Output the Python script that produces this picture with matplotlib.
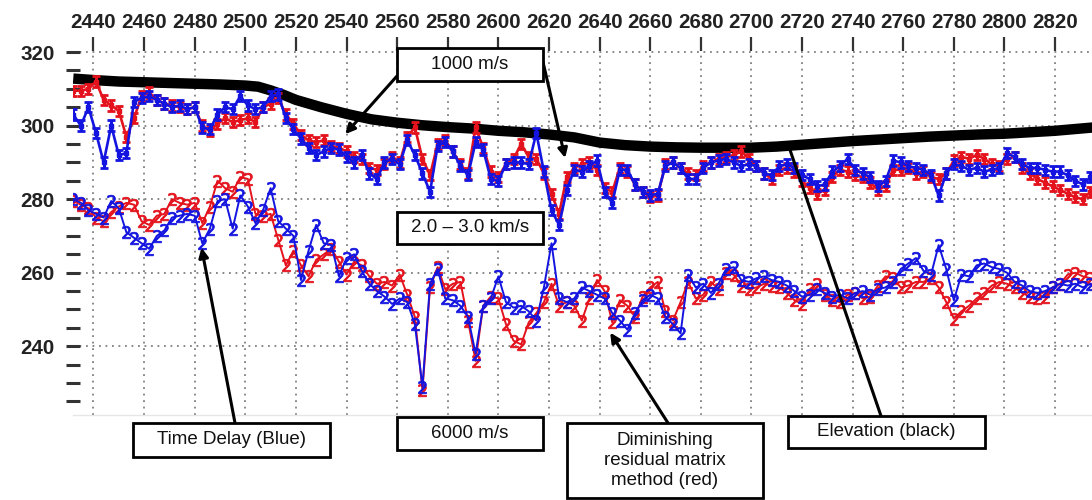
import numpy as np
import matplotlib
matplotlib.use("Agg")
import matplotlib.pyplot as plt
from matplotlib.patches import Rectangle
from matplotlib.ticker import MultipleLocator, FixedLocator

plt.rcParams['font.family'] = ['Liberation Sans', 'DejaVu Sans']

# ---------------- data ----------------
stations = np.arange(2432, 2835, 3)

upper_red = [
    309.5, 309.5, 310, 312, 307, 305.5, 304, 297, 302, 308,
    309, 307, 306, 305.5, 305, 304.5, 305, 300, 298.5, 300.5,
    302, 301, 301.5, 302, 301, 305, 306, 307.5, 303, 300.5,
    297.5, 296, 295.5, 296, 294.5, 294, 293, 291.5, 291, 288.5,
    288, 289.5, 291.5, 290, 297, 299.5, 291, 286.5, 295, 296,
    293, 289.5, 287, 299.5, 294, 287.5, 286, 289.5, 291, 295,
    291.5, 291, 287, 281.5, 276, 286, 288.5, 289.5, 290, 288,
    283, 282, 288.5, 287.5, 284, 282, 280.5, 281, 289.5, 290,
    288.5, 287, 286.5, 289, 290, 291, 291.5, 292, 293, 291,
    289, 287, 285.5, 288, 288.5, 287.5, 285, 283, 281.5, 282.5,
    286, 288, 287.5, 286.5, 286, 284.5, 282.5, 283.5, 288, 288,
    288.5, 287, 287.5, 286, 285.5, 287, 290.5, 291.5, 291, 292,
    291, 289.5, 289, 291, 291.5, 288.5, 287, 285.5, 284.5, 283.5,
    282.5, 281.5, 280.5, 280, 282,
]

upper_blue = [
    303, 300, 305, 298, 290, 300, 292, 292.5, 306.5, 307.5,
    308, 307, 306, 305, 305.5, 304.5, 305, 299.5, 299, 303,
    305, 304.5, 308, 305.5, 304.5, 305, 308, 308.5, 302, 299,
    296.5, 294, 292, 293, 294, 293.5, 291.5, 290, 292, 287,
    285.5, 290, 291, 289.5, 296, 292, 287, 282, 294.5, 295.5,
    293, 289, 286.5, 295.5, 293.5, 285.5, 285, 289.5, 290, 290,
    289.5, 298, 287.5, 277, 273, 282.5, 288, 287.5, 289, 290.5,
    282, 279, 288, 288, 284, 282, 281, 281.5, 289, 290,
    288.5, 285.5, 285.5, 288.5, 290, 290.5, 291, 290, 289, 289.5,
    289, 287, 286.5, 289, 289.5, 288.5, 286.5, 285.5, 283.5, 284,
    287.5, 289, 291, 288, 287, 286, 283.5, 285, 290.5, 290,
    289, 288.5, 288, 286.5, 281, 287, 289.5, 289, 288, 288.5,
    287.5, 288, 288.5, 292.5, 291.5, 289.5, 288.5, 288.5, 288, 287.5,
    287.5, 286.5, 285, 284, 286,
]

lower_red = [
    279.5, 278.5, 277.5, 275, 274, 276.5, 278, 279, 278.5, 274,
    273, 275.5, 276, 280, 279, 278.5, 279, 273.5, 278, 285,
    283, 282, 286, 285.5, 276, 275.5, 276, 269, 262, 266,
    262, 259, 263.5, 265, 266.5, 263, 259.5, 263, 262, 259,
    257, 257.5, 256.5, 259.5, 254, 248, 228, 256, 261.5, 255.5,
    257, 257.5, 247, 236, 251, 253.5, 253, 246, 241.5, 240.5,
    246.5, 249, 252, 257, 251, 252, 251, 247, 253, 258,
    255, 246.5, 252.5, 251, 248, 253.5, 256, 257.5, 249.5, 247,
    252, 257.5, 253, 254, 257.5, 255.5, 260, 259.5, 256.5, 255.5,
    256, 257, 256.5, 256, 254.5, 252.5, 251.5, 255.5, 257, 254,
    252.5, 252, 254, 254.5, 253, 253.5, 256.5, 259, 258.5, 256,
    256.5, 257.5, 257.5, 258.5, 256, 252, 247.5, 249.5, 251, 253,
    254.5, 256.5, 257.5, 257, 256, 254.5, 253.5, 253, 253.5, 256,
    257, 259.5, 260, 259, 258.5,
]

lower_blue = [
    280, 279, 277, 276, 275, 279.5, 277.5, 271, 269.5, 268,
    266.5, 270, 271.5, 275, 275.5, 276, 275.5, 268, 272, 279.5,
    280, 272, 281, 278, 273.5, 277, 283, 274, 272, 270,
    258, 266, 273, 268, 267.5, 259, 264, 265, 260.5, 257,
    255, 253.5, 251.5, 253, 252, 246, 229, 257, 261, 253,
    252.5, 251, 248, 238, 251, 253, 259, 252, 250.5, 251,
    249.5, 247, 256, 268, 253, 252, 253, 256, 255, 254,
    253, 249, 247, 244.5, 249, 252.5, 254, 253, 248, 246,
    243.5, 259.5, 256, 257, 254.5, 257, 261, 261.5, 258, 257.5,
    258.5, 259, 258, 257.5, 256.5, 255, 253.5, 254, 255.5, 254.5,
    253.5, 254, 253, 254.5, 255, 254, 255.5, 256, 257.5, 261,
    262.5, 264, 260.5, 259.5, 267.5, 261, 252.5, 259.5, 259, 262,
    262.5, 261.5, 261, 260, 257.5, 256.5, 255, 254.5, 255, 256,
    257, 256.5, 257, 256, 257,
]

elev_x = [2432, 2440, 2450, 2460, 2470, 2480, 2490, 2500, 2505, 2510,
          2515, 2520, 2530, 2540, 2550, 2560, 2570, 2580, 2590, 2600,
          2610, 2620, 2630, 2640, 2650, 2660, 2670, 2680, 2690, 2700,
          2710, 2720, 2730, 2740, 2750, 2760, 2770, 2780, 2790, 2800,
          2810, 2820, 2830, 2835]
elev_y = [312.8, 312.4, 312.0, 311.8, 311.6, 311.4, 311.2, 310.9, 310.6, 309.6,
          308.4, 307.0, 305.0, 303.2, 301.7, 300.8, 300.1, 299.6, 299.2, 298.6,
          298.2, 297.6, 296.8, 295.4, 294.7, 294.3, 294.1, 294.0, 294.0, 294.0,
          294.3, 294.8, 295.3, 295.8, 296.2, 296.6, 297.0, 297.3, 297.6, 297.8,
          298.2, 298.6, 299.2, 299.5]

x_ticks = list(range(2440, 2821, 20))
y_ticks = [240, 260, 280, 300, 320]

RED = '#e4121c'
BLUE = '#1414e0'

# ---------------- figure ----------------
fig = plt.figure(figsize=(10.92, 5.0), dpi=100)
W, H = 1092.0, 500.0
ax = fig.add_axes([73 / W, 1 - 415 / H, 1 - 73 / W, (415 - 51) / H])

ax.set_xlim(2431.9, 2834.6)
ax.set_ylim(221.3, 320.3)

# elevation
ax.plot(elev_x, elev_y, color='black', lw=7.5, solid_capstyle='butt', zorder=2)

# upper (1000 m/s) series with error-bar style markers
ax.errorbar(stations, upper_red, yerr=1.4, color=RED, ecolor=RED, lw=1.9,
            elinewidth=2.2, capsize=2.8, capthick=2.0, marker='s', ms=3.5, zorder=3)
ax.errorbar(stations, upper_blue, yerr=1.4, color=BLUE, ecolor=BLUE, lw=1.9,
            elinewidth=2.2, capsize=2.8, capthick=2.0, marker='s', ms=3.5, zorder=4)

# lower (6000 m/s) series with "2" markers
ax.plot(stations, lower_red, color=RED, lw=1.4, marker='$2$', ms=9,
        mec=RED, mfc=RED, mew=0.6, zorder=3)
ax.plot(stations, lower_blue, color=BLUE, lw=1.4, marker='$2$', ms=9,
        mec=BLUE, mfc=BLUE, mew=0.6, zorder=4)

# axes styling
ax.xaxis.tick_top()
ax.xaxis.set_major_locator(FixedLocator(x_ticks))
ax.yaxis.set_major_locator(FixedLocator(y_ticks))
ax.yaxis.set_minor_locator(MultipleLocator(5))
ax.tick_params(axis='x', which='major', direction='out', length=10, width=1.6,
               color='#333333', pad=4, labelsize=14.8, labelcolor='#222222')
ax.tick_params(axis='y', which='both', direction='inout', length=10, width=2.2,
               color='#333333')
ax.tick_params(axis='y', which='major', pad=8, labelsize=14.8, labelcolor='#222222')
for lab in ax.get_xticklabels() + ax.get_yticklabels():
    lab.set_fontweight('bold')

ax.grid(True, which='major', linestyle=(0, (1, 2.6)), color='#808080', lw=1.3)
for s in ['top', 'left', 'right']:
    ax.spines[s].set_visible(False)
ax.spines['bottom'].set_color('#e6e6e6')
ax.spines['bottom'].set_linewidth(1.0)
ax.tick_params(axis='x', which='both', bottom=False)


# ---------------- annotations ----------------
def fbox(x0, y0, x1, y1, text):
    rect = Rectangle((x0 / W, 1 - y1 / H), (x1 - x0) / W, (y1 - y0) / H,
                     transform=fig.transFigure, facecolor='white',
                     edgecolor='black', lw=2.0, zorder=10, clip_on=False)
    fig.add_artist(rect)
    fig.text((x0 + x1) / 2 / W, 1 - (y0 + y1) / 2 / H, text, ha='center',
             va='center', fontsize=13.5, color='#111111', zorder=11,
             linespacing=1.2)


def arrow(start_px, target, head=True):
    ax.annotate('', xy=target, xycoords='data',
                xytext=(start_px[0] / W, 1 - start_px[1] / H),
                textcoords='figure fraction', annotation_clip=False,
                arrowprops=dict(arrowstyle='-|>' if head else '-', color='black',
                                lw=2.2, mutation_scale=14, shrinkA=0, shrinkB=0),
                zorder=9)


arrow((397, 76), (2539.5, 297.7))
arrow((543, 62), (2626.4, 291.2))
arrow((235, 423), (2482.7, 266.8))
arrow((668, 423), (2644.2, 243.7))
arrow((881, 416), (2715.3, 293.3), head=False)

fbox(397, 48, 543, 81, '1000 m/s')
fbox(397, 212, 543, 244, '2.0 \u2013 3.0 km/s')
fbox(133, 423, 330, 457, 'Time Delay (Blue)')
fbox(397, 417, 543, 450, '6000 m/s')
fbox(567, 423, 763, 498, 'Diminishing\nresidual matrix\nmethod (red)')
fbox(788, 416, 985, 448, 'Elevation (black)')

fig.savefig('out.png', dpi=100)
